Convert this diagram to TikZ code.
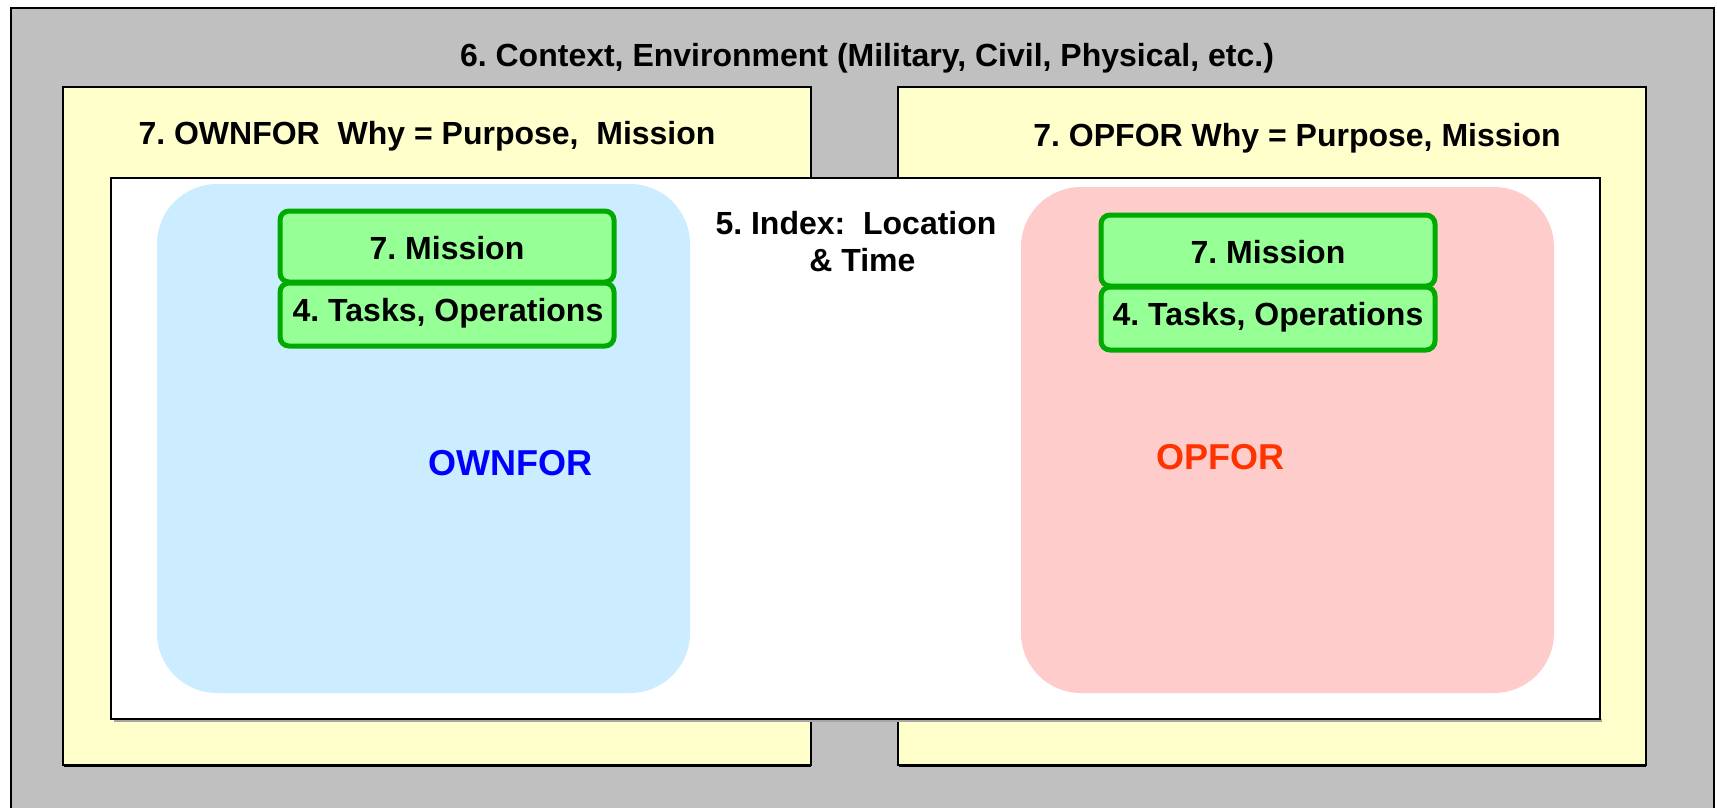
\documentclass[tikz,border=0pt]{standalone}
\usepackage{fontspec}
\setmainfont{Liberation Sans}
\frenchspacing
\definecolor{outergray}{HTML}{C0C0C0}
\definecolor{paleyellow}{HTML}{FFFFCC}
\definecolor{paleblue}{HTML}{CCECFF}
\definecolor{palepink}{HTML}{FFCCCC}
\definecolor{lightgreen}{HTML}{96FF96}
\definecolor{darkgreen}{HTML}{00AA00}
\definecolor{ownblue}{HTML}{0000FF}
\definecolor{opred}{HTML}{FF3300}
\tikzset{
  lbl/.style={font=\bfseries\fontsize{32bp}{37bp}\selectfont, inner sep=0pt, align=center},
  bigl/.style={font=\bfseries\fontsize{36bp}{42bp}\selectfont, inner sep=0pt},
  yellowbox/.style={fill=paleyellow, draw=black, line width=2bp},
  greenbox/.style={fill=lightgreen, draw=darkgreen, line width=5bp, rounded corners=9bp},
  forcearea/.style={rounded corners=60bp, draw=none},
}
\begin{document}
\begin{tikzpicture}[x=1bp,y=-1bp]
\useasboundingbox (0,0) rectangle (1717,808);
% outer context
\fill[outergray] (11,8) rectangle (1714,808);
\draw[line width=1.5bp] (11,812) -- (11,8) -- (1714,8) -- (1714,812);
\node[lbl] (ctx) at (867,58.5) {6. Context, Environment (Military, Civil, Physical, etc.)};
% yellow boxes
\draw[yellowbox] (63,87) rectangle (811,765);
\draw[yellowbox] (898,87) rectangle (1646,765);
\draw[line width=1.5bp] (64,766.5) -- (811,766.5);
\draw[line width=1.5bp] (899,766.5) -- (1646,766.5);
\node[lbl] (ownwhy) at (427,136.5) {7. OWNFOR~ Why = Purpose,~ Mission};
\node[lbl] (opwhy) at (1297,138.5) {7. OPFOR Why = Purpose, Mission};
% white index area
\fill[gray!70] (114,719) rectangle (1602,722);
\draw[fill=white, line width=1.5bp] (111,178) rectangle (1600,719);
\node[lbl] (index) at (856,242) {5. Index:~ Location\\[0bp]\hspace*{0.4em}\& Time};
% force areas
\fill[paleblue, forcearea] (157,184) rectangle (690,693);
\fill[palepink, forcearea] (1021,187) rectangle (1554,693);
\node[bigl, text=ownblue] (own) at (510,463.5) {OWNFOR};
\node[bigl, text=opred] (op) at (1220,457) {OPFOR};
% green boxes
\draw[greenbox] (280,211) rectangle (614,282);
\draw[greenbox] (280,283) rectangle (614,346);
\node[lbl] (mis1) at (447,248) {7. Mission};
\node[lbl] (task1) at (448,313.5) {4. Tasks, Operations};
\draw[greenbox] (1101,215) rectangle (1435,286);
\draw[greenbox] (1101,287) rectangle (1435,350);
\node[lbl] (mis2) at (1268,252) {7. Mission};
\node[lbl] (task2) at (1268,317.5) {4. Tasks, Operations};
\end{tikzpicture}
\end{document}
